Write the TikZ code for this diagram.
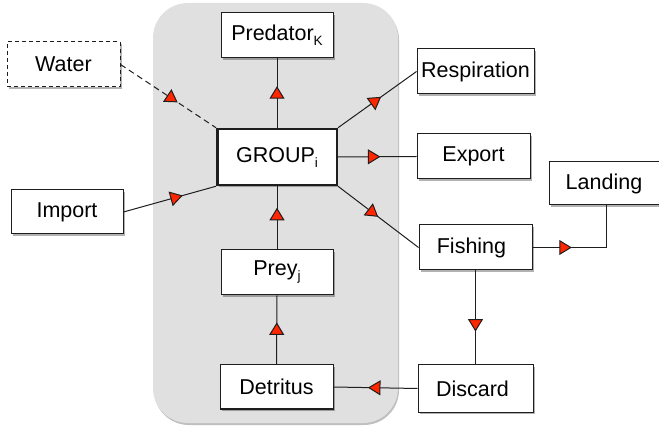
\documentclass[tikz,border=0pt]{standalone}
\usepackage{fontspec}
\setmainfont{Liberation Sans}
\usetikzlibrary{arrows.meta,decorations.markings,shadows}
\definecolor{tipred}{RGB}{255,38,0}
\definecolor{panelgray}{RGB}{224,224,224}
\definecolor{boxline}{RGB}{30,30,30}
\newcommand\subtxt[1]{\raisebox{-5pt}{\fontsize{13.5}{13.5}\selectfont #1}}
\tikzset{
  box/.style={draw=boxline, line width=1pt, fill=white, inner sep=0pt,
    font=\fontsize{21.5}{24}\selectfont,
    drop shadow={shadow xshift=1.5pt, shadow yshift=-2pt, opacity=0.3, fill=black}},
  dashbox/.style={box, dashed, dash pattern=on 4pt off 3pt},
  link/.style={draw=boxline, line width=1pt},
  flow/.style={link, postaction={decorate}, decoration={markings,
    mark=at position #1 with {\arrow{Triangle[width=15pt,length=12.5pt,fill=tipred]}}}},
  flow/.default=0.58
}
\begin{document}
\begin{tikzpicture}[x=1pt,y=-1pt]
\path[use as bounding box, clip] (0,0) rectangle (659,430);
\fill[white] (0,0) rectangle (659,430);
% panel
\path[fill=panelgray, rounded corners=35pt,
  drop shadow={shadow xshift=1pt, shadow yshift=-2pt, opacity=0.25, fill=black}]
  (153,3) rectangle (398,423);
% nodes
\node[box, minimum width=112pt, minimum height=45pt] (pred) at (277,35.5) {Predator\subtxt{K}};
\node[dashbox, minimum width=113pt, minimum height=45pt] (water) at (63.5,64.5) {Water};
\node[box, line width=2.5pt, minimum width=119.5pt, minimum height=56pt] (group) at (277,157) {GROUP\subtxt{i}};
\node[box, minimum width=117pt, minimum height=45pt] (resp) at (475.5,71.5) {Respiration};
\node[box, minimum width=113pt, minimum height=45pt] (export) at (473.5,156.5) {Export};
\node[box, minimum width=114pt, minimum height=43pt] (landing) at (606,183.5) {\hspace*{-4pt}Landing};
\node[box, minimum width=112pt, minimum height=44pt] (import) at (67,212) {Import};
\node[box, minimum width=112pt, minimum height=45pt] (prey) at (277,272.5) {Prey\subtxt{j}};
\node[box, minimum width=113pt, minimum height=44pt] (detritus) at (276.5,387) {Detritus};
\node[box, minimum width=113pt, minimum height=45pt] (fishing) at (475.5,247.5) {Fishing\hspace*{8pt}};
\node[box, minimum width=115pt, minimum height=47pt] (discard) at (475.5,388.5) {Discard\hspace*{6pt}};
% connectors
\draw[flow=0.6, dashed, dash pattern=on 6pt off 4pt] (water.east) -- (group.north west);
\draw[flow=0.64] (import.east) -- (group.south west);
\draw[flow=0.6] (group.north) -- (pred.south);
\draw[flow=0.55] (group.north east) -- (resp.west);
\draw[flow=0.54] (group.east) -- (export.west);
\draw[flow=0.5] (group.south east) -- (fishing.west);
\draw[flow=0.66] (prey.north) -- (group.south);
\draw[flow=0.61] (detritus.north) -- (prey.south);
\draw[flow=0.34] (fishing.east) -| (landing.south);
\draw[flow=0.65] (fishing.south) -- (discard.north);
\draw[flow=0.59] (discard.west) -- (detritus.east);
\end{tikzpicture}
\end{document}
